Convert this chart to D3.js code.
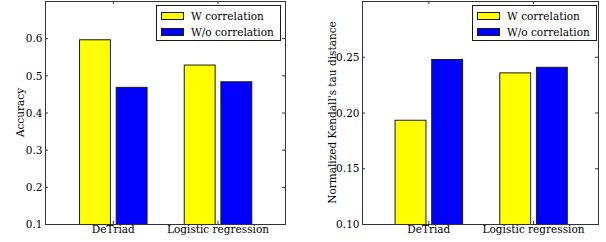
<!DOCTYPE html>
<html><head><meta charset="utf-8">
<script src="https://cdn.jsdelivr.net/npm/d3@7"></script>
<style>
body{margin:0;background:#fff;}
svg text{font-family:"DejaVu Serif",serif;font-size:10.5px;fill:#000;}
</style></head>
<body><svg id="c" width="606" height="242"></svg>
<script>
const categories = ["DeTriad", "Logistic regression"];
const seriesNames = ["W correlation", "W/o correlation"];
const accuracyW = [0.597, 0.529];
const accuracyWo = [0.469, 0.484];
const kendallW = [0.1935, 0.236];
const kendallWo = [0.248, 0.241];
const accuracyTicks = [0.1, 0.2, 0.3, 0.4, 0.5, 0.6];
const kendallTicks = [0.10, 0.15, 0.20, 0.25];

const colors = ["#ffff00", "#0000ff"];
const svg = d3.select("#c");

function panel(opt) {
  const {left, right, top, bottom, yDomain, xDomain, ticks, fmt, ylabel, ylabelX, w, wo} = opt;
  const g = svg.append("g");
  const x = d3.scaleLinear().domain(xDomain).range([left, right]);
  const y = d3.scaleLinear().domain(yDomain).range([bottom, top]);
  const barW = 0.295, off = 0.35;
  const series = [w, wo];
  series.forEach((vals, si) => {
    g.selectAll(null).data(vals).enter().append("rect")
      .attr("x", (d, i) => x(i + si * off) + 0.5)
      .attr("width", (d, i) => x(i + si * off + barW) - x(i + si * off))
      .attr("y", d => y(d) + 0.5)
      .attr("height", d => y(yDomain[0]) - y(d))
      .attr("fill", colors[si])
      .attr("stroke", "#1a1a1a").attr("stroke-width", 1);
  });
  const centers = categories.map((c, i) => i + (off + barW) / 2);
  const yAxisL = d3.axisLeft(y).tickValues(ticks).tickFormat(fmt).tickSizeInner(-3).tickSizeOuter(0).tickPadding(2.5);
  const gy = g.append("g").attr("transform", `translate(${left},0)`).call(yAxisL);
  const yAxisR = d3.axisRight(y).tickValues(ticks).tickFormat("").tickSizeInner(-3).tickSizeOuter(0);
  const gyr = g.append("g").attr("transform", `translate(${right},0)`).call(yAxisR);
  const xAxisB = d3.axisBottom(x).tickValues(centers).tickFormat((d, i) => categories[i]).tickSizeInner(-3).tickSizeOuter(0).tickPadding(2);
  const gx = g.append("g").attr("transform", `translate(0,${bottom})`).call(xAxisB);
  const xAxisT = d3.axisTop(x).tickValues(centers).tickFormat("").tickSizeInner(-3).tickSizeOuter(0);
  const gxt = g.append("g").attr("transform", `translate(0,${top})`).call(xAxisT);
  [gy, gyr, gx, gxt].forEach(a => {
    a.select(".domain").remove();
    a.selectAll("line").attr("stroke", "#333");
    a.selectAll("text").attr("font-family", "DejaVu Serif").attr("font-size", 10.5).attr("fill", "#000");
  });
  gy.selectAll("text").attr("dy", "0.35em");
  g.append("rect").attr("x", left + 0.5).attr("y", top + 0.5)
    .attr("width", right - left).attr("height", bottom - top)
    .attr("fill", "none").attr("stroke", "#333").attr("stroke-width", 1);
  g.append("text").attr("transform", `translate(${ylabelX},${(top + bottom) / 2}) rotate(-90)`)
    .attr("text-anchor", "middle").attr("dy", "0.35em").text(ylabel);
  const lx = opt.legendX, ly = top + 4;
  const lg = g.append("g");
  lg.append("rect").attr("x", lx + 0.5).attr("y", ly + 0.5).attr("width", 124).attr("height", 35)
    .attr("fill", "#fff").attr("stroke", "#1a1a1a");
  seriesNames.forEach((n, i) => {
    lg.append("rect").attr("x", lx + 5.5).attr("y", ly + 7.5 + i * 16).attr("width", 22).attr("height", 7)
      .attr("fill", colors[i]).attr("stroke", "#1a1a1a");
    lg.append("text").attr("x", lx + 35).attr("y", ly + 11 + i * 16).attr("dy", "0.35em").text(n);
  });
}

panel({left: 45, right: 285, top: 1, bottom: 224, yDomain: [0.1, 0.7], xDomain: [-0.325, 1.967],
  ticks: accuracyTicks, fmt: d3.format(".1f"), ylabel: "Accuracy", ylabelX: 20,
  w: accuracyW, wo: accuracyWo, legendX: 156});
panel({left: 362, right: 598, top: 1, bottom: 224, yDomain: [0.1, 0.3], xDomain: [-0.311, 1.943],
  ticks: kendallTicks, fmt: d3.format(".2f"), ylabel: "Normalized Kendall's tau distance", ylabelX: 332,
  w: kendallW, wo: kendallWo, legendX: 472});
</script></body></html>
